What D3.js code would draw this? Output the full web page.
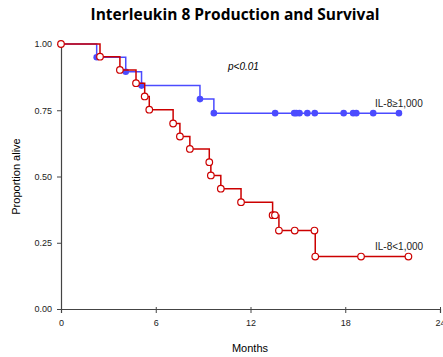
<!DOCTYPE html>
<html>
<head>
<meta charset="utf-8">
<script src="https://cdn.jsdelivr.net/npm/d3@7"></script>
<style>
  body { margin: 0; background: #fff; }
  svg { display: block; font-family: "Liberation Sans", Arial, sans-serif; }
</style>
</head>
<body>
<div id="chart"></div>
<script>
// IL-8 >= 1,000 group (filled markers)
var highTimes = [0, 2.26, 4.1, 5.1, 8.8, 9.68, 13.56, 14.77, 14.9, 15.1, 15.6, 16.07, 17.9, 18.5, 18.7, 19.77, 21.4];
var highSurv = [1, 0.95, 0.895, 0.843, 0.792, 0.739, 0.739, 0.739, 0.739, 0.739, 0.739, 0.739, 0.739, 0.739, 0.739, 0.739, 0.739];

// IL-8 < 1,000 group (open markers)
var lowTimes = [0, 2.47, 3.73, 4.75, 5.3, 5.59, 7.1, 7.53, 8.16, 9.39, 9.49, 10.12, 11.4, 13.4, 13.55, 13.8, 14.8, 16.05, 16.1, 19.0, 22.0];
var lowSurv = [1, 0.952, 0.902, 0.852, 0.802, 0.752, 0.70, 0.651, 0.604, 0.554, 0.504, 0.454, 0.403, 0.354, 0.354, 0.296, 0.296, 0.296, 0.198, 0.198, 0.198];

var xTicks = [0, 6, 12, 18, 24];
var yTicks = [0, 0.25, 0.5, 0.75, 1];

var width = 443, height = 357;
var margin = {top: 44, right: 3, bottom: 48, left: 61};

var svg = d3.select("#chart").append("svg")
    .attr("width", width)
    .attr("height", height);

var x = d3.scaleLinear().domain([0, 24]).range([margin.left, width - margin.right]);
var y = d3.scaleLinear().domain([0, 1]).range([height - margin.bottom, margin.top]);

// title
svg.append("text")
    .attr("x", 235)
    .attr("y", 20)
    .attr("text-anchor", "middle")
    .style("font-family", "'Open Sans', sans-serif")
    .style("font-weight", "bold")
    .style("font-size", "15.5px")
    .text("Interleukin 8 Production and Survival");

// axes
var xAxis = svg.append("g")
    .attr("transform", "translate(0," + y(0) + ")")
    .call(d3.axisBottom(x).tickValues(xTicks).tickSize(4).tickPadding(7).tickFormat(d3.format("d")));
var yAxis = svg.append("g")
    .attr("transform", "translate(" + x(0) + ",0)")
    .call(d3.axisLeft(y).tickValues(yTicks).tickSize(4).tickPadding(5).tickFormat(d3.format(".2f")));

xAxis.selectAll(".tick line").attr("y1", -2);

[xAxis, yAxis].forEach(function (g) {
    g.select(".domain").attr("stroke", "#444").attr("stroke-width", 1.2);
    g.selectAll(".tick line").attr("stroke", "#444");
    g.selectAll(".tick text").attr("fill", "#222").style("font-size", "9px");
});

// axis labels
svg.append("text")
    .attr("x", 250)
    .attr("y", 352)
    .attr("text-anchor", "middle")
    .style("font-size", "11px")
    .text("Months");
svg.append("text")
    .attr("transform", "translate(20," + y(0.5) + ") rotate(-90)")
    .attr("text-anchor", "middle")
    .style("font-size", "11px")
    .text("Proportion alive");

var line = d3.line()
    .x(function (d) { return x(d[0]); })
    .y(function (d) { return y(d[1]); })
    .curve(d3.curveStepAfter);

var blue = "#4b4bff", red = "#cc0000";

var high = highTimes.map(function (t, i) { return [t, highSurv[i]]; });
var low = lowTimes.map(function (t, i) { return [t, lowSurv[i]]; });

// high group
svg.append("path")
    .datum(high)
    .attr("d", line)
    .attr("fill", "none")
    .attr("stroke", blue)
    .attr("stroke-width", 1.5);
svg.append("g").selectAll("circle")
    .data(high.slice(1))
    .join("circle")
    .attr("cx", function (d) { return x(d[0]); })
    .attr("cy", function (d) { return y(d[1]); })
    .attr("r", 3.3)
    .attr("fill", blue);

// low group
svg.append("path")
    .datum(low)
    .attr("d", line)
    .attr("fill", "none")
    .attr("stroke", red)
    .attr("stroke-width", 1.5);
svg.append("g").selectAll("circle")
    .data(low)
    .join("circle")
    .attr("cx", function (d) { return x(d[0]); })
    .attr("cy", function (d) { return y(d[1]); })
    .attr("r", 3.3)
    .attr("fill", "#fff")
    .attr("stroke", red)
    .attr("stroke-width", 1.2);

// annotations
svg.append("text")
    .attr("x", 228)
    .attr("y", 70)
    .style("font-size", "10px")
    .style("font-style", "italic")
    .text("p<0.01");
svg.append("text")
    .attr("x", 375)
    .attr("y", 107)
    .style("font-size", "10px")
    .attr("fill", "#222")
    .text("IL-8\u22651,000");
svg.append("text")
    .attr("x", 375)
    .attr("y", 250)
    .style("font-size", "10px")
    .attr("fill", "#222")
    .text("IL-8<1,000");
</script>
</body>
</html>
